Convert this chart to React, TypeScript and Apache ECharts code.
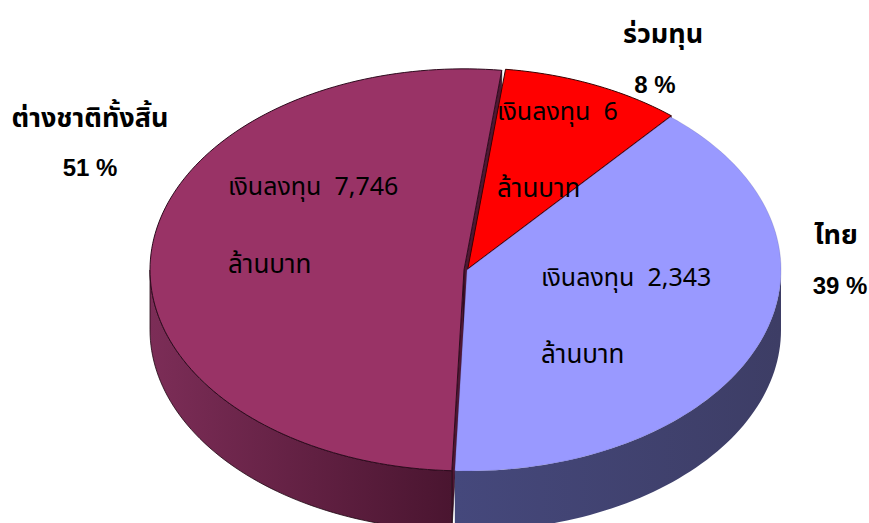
import React, { useEffect, useRef } from 'react';
import * as echarts from 'echarts';

// ---- data ----
const categories = ['ร่วมทุน', 'ไทย', 'ต่างชาติทั้งสิ้น'];
const sliceShares = [9.3, 39.4, 51.3]; // slice sizes as drawn (% of the pie)
const percentLabels = ['8 %', '39 %', '51 %'];
const investAmounts = ['6', '2,343', '7,746'];
const investWord = 'เงินลงทุน';
const unitWord = 'ล้านบาท';

// ---- styling / layout ----
const topColors = ['#FF0000', '#9999FF', '#993366'];
const topStrokes = ['#3a0000', 'rgba(70,70,140,0.35)', '#2e0b1e'];
const wallStops: [string, string][] = [
  ['#a00000', '#700000'],
  ['#45487c', '#3d3d65'],
  ['#7c2d57', '#4a1530'],
];
const cutColors = ['#800000', '#3d3d65', '#4e1733'];
const explode = [2, 0, 3];
const START_DEG = 6.9;
const CX = 467, CY = 270, RX = 314, RY = 201, DEPTH = 60;

const THAI = 'Tahoma, "Noto Sans Thai", "Noto Sans", "DejaVu Sans", sans-serif';

const innerPos = [
  [497, 112, 497, 189],
  [541, 278, 541, 355],
  [228, 187, 228, 265],
];
const outerPos = [
  [663, 34, 655, 84],
  [836, 235, 840, 285],
  [90, 118, 90, 167],
];

export default function App() {
  const ref = useRef<HTMLDivElement>(null);
  useEffect(() => {
    if (!ref.current) return;
    const chart = echarts.init(ref.current, undefined, { renderer: 'svg' });
    const total = sliceShares.reduce((a, b) => a + b, 0);
    const rad = (d: number) => (d * Math.PI) / 180;

    const renderItem = (params: any, api: any) => {
      const i = params.dataIndex;
      const v = api.value(0);
      let before = 0;
      for (let j = 0; j < i; j++) before += sliceShares[j];
      const a0 = START_DEG + (360 * before) / total;
      const a1 = a0 + (360 * v) / total;
      const mid = rad((a0 + a1) / 2);
      const cx = CX + explode[i] * Math.sin(mid);
      const cy = CY - explode[i] * Math.cos(mid) * (RY / RX);
      const pt = (deg: number, dz = 0) => [cx + RX * Math.sin(rad(deg)), cy - RY * Math.cos(rad(deg)) + dz];
      const arc = (from: number, to: number, dz = 0) => {
        const n = Math.max(2, Math.ceil(Math.abs(to - from) / 1.5));
        const out: number[][] = [];
        for (let k = 0; k <= n; k++) out.push(pt(from + ((to - from) * k) / n, dz));
        return out;
      };
      const children: any[] = [];
      const sinA0 = Math.sin(rad(a0));
      const sinA1 = Math.sin(rad(a1));
      const cutFace = (a: number) => ({
        type: 'polygon',
        z2: 1,
        shape: { points: [[cx, cy], pt(a), pt(a, DEPTH), [cx, cy + DEPTH]] },
        style: { fill: cutColors[i], stroke: '#1a0510', lineWidth: 0.6 },
      });
      if (sinA0 < 0) children.push(cutFace(a0));
      if (sinA1 > 0) children.push(cutFace(a1));
      for (const [f0, f1] of [[90, 270], [450, 630]]) {
        const s = Math.max(a0, f0);
        const e = Math.min(a1, f1);
        if (e > s) {
          const topArc = arc(s, e);
          const botArc = arc(e, s, DEPTH);
          children.push({
            type: 'polygon',
            z2: 2,
            shape: { points: topArc.concat(botArc) },
            style: {
              fill: new echarts.graphic.LinearGradient(0, 0, 1, 0, [
                { offset: 0, color: wallStops[i][0] },
                { offset: 1, color: wallStops[i][1] },
              ]),
              stroke: i === 1 ? 'none' : '#1e0612',
              lineWidth: 0.8,
            },
          });
        }
      }
      children.push({
        type: 'polygon',
        z2: 3,
        shape: { points: [[cx, cy]].concat(arc(a0, a1)) },
        style: { fill: topColors[i], stroke: topStrokes[i], lineWidth: i === 1 ? 0.6 : 1 },
      });
      return { type: 'group', children };
    };

    const graphics: any[] = [];
    categories.forEach((name, i) => {
      const ip = innerPos[i];
      const op = outerPos[i];
      graphics.push({
        type: 'text', x: ip[0], y: ip[1], z: 100,
        style: { text: investWord + '  ' + investAmounts[i], fill: '#000', font: `25px ${THAI}`, textAlign: 'left', textVerticalAlign: 'middle' },
      });
      graphics.push({
        type: 'text', x: ip[2], y: ip[3], z: 100,
        style: { text: unitWord, fill: '#000', font: `26px ${THAI}`, textAlign: 'left', textVerticalAlign: 'middle' },
      });
      graphics.push({
        type: 'text', x: op[0], y: op[1], z: 100,
        style: { text: name, fill: '#000', font: `bold 27px ${THAI}`, textAlign: 'center', textVerticalAlign: 'middle' },
      });
      graphics.push({
        type: 'text', x: op[2], y: op[3], z: 100,
        style: { text: percentLabels[i], fill: '#000', font: `bold 24px Arial, "Liberation Sans", sans-serif`, textAlign: 'center', textVerticalAlign: 'middle' },
      });
    });

    chart.setOption({
      animation: false,
      backgroundColor: '#ffffff',
      series: [
        {
          type: 'custom',
          coordinateSystem: 'none',
          silent: true,
          z: 2,
          data: sliceShares.map((v, i) => [v, i]),
          renderItem,
        },
      ],
      graphic: graphics,
    });
    return () => chart.dispose();
  }, []);
  return <div ref={ref} style={{ position: 'absolute', left: 0, top: 0, width: 869, height: 523 }} />;
}
